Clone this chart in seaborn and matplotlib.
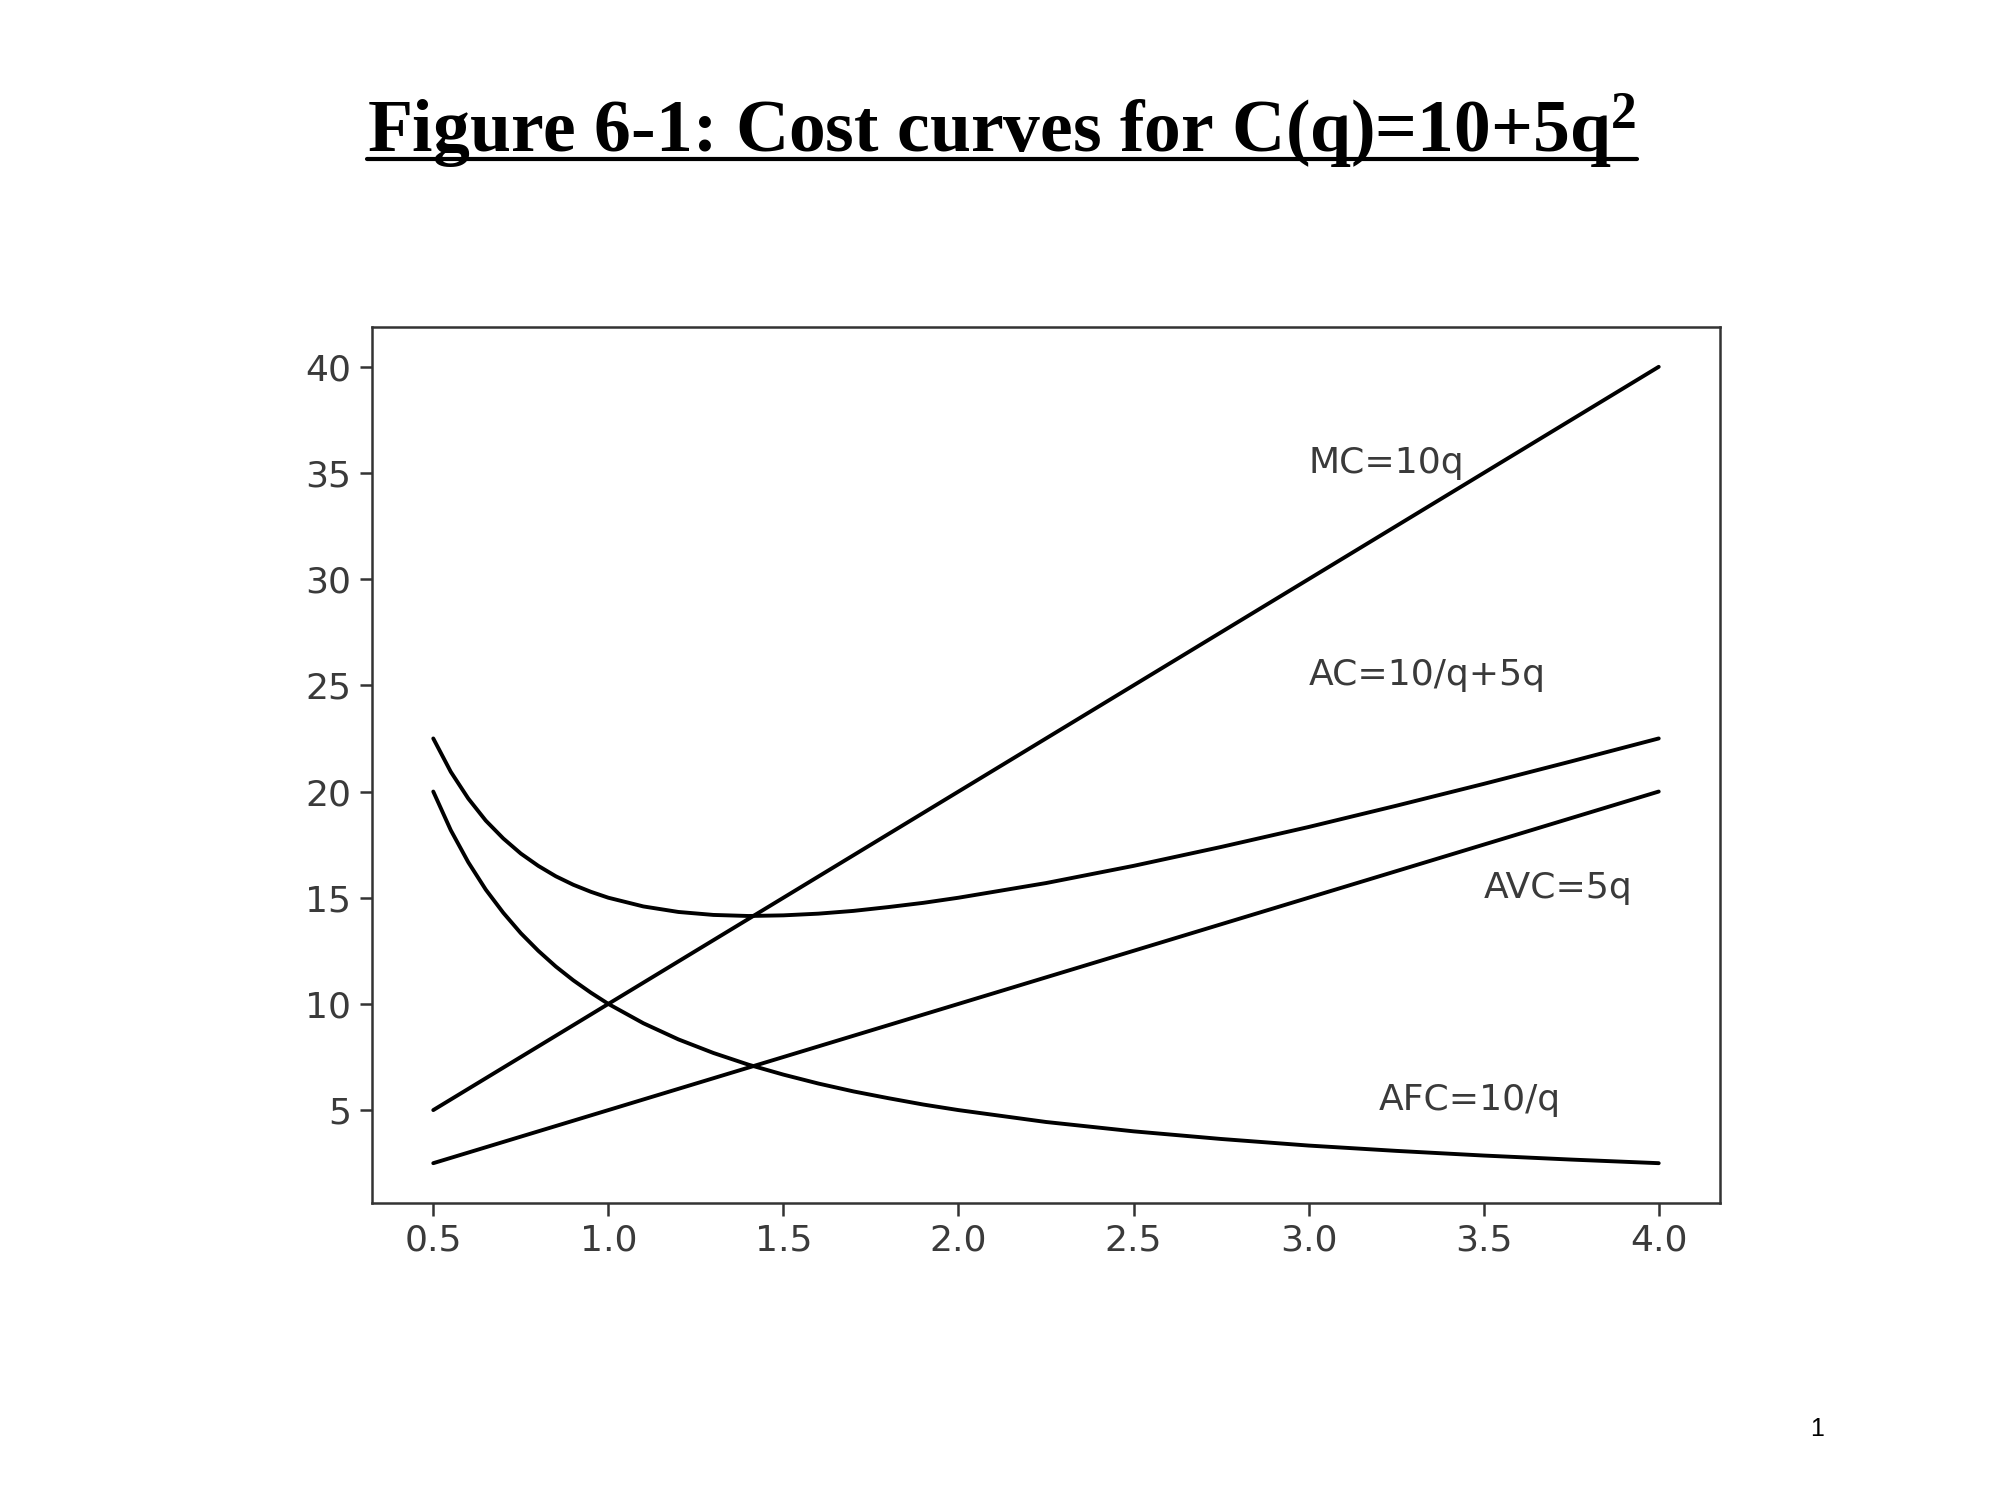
import matplotlib
matplotlib.use('Agg')
import matplotlib.pyplot as plt
import seaborn as sns
import pandas as pd
from matplotlib.lines import Line2D

# values
q = [0.5, 0.55, 0.6, 0.65, 0.7, 0.75, 0.8, 0.85, 0.9, 0.95, 1.0, 1.1, 1.2, 1.3,
     1.4, 1.5, 1.6, 1.7, 1.8, 1.9, 2.0, 2.25, 2.5, 2.75, 3.0, 3.25, 3.5, 3.75, 4.0]
mc = [5, 5.5, 6, 6.5, 7, 7.5, 8, 8.5, 9, 9.5, 10, 11, 12, 13,
      14, 15, 16, 17, 18, 19, 20, 22.5, 25, 27.5, 30, 32.5, 35, 37.5, 40]
ac = [22.5, 20.93, 19.67, 18.63, 17.79, 17.08, 16.5, 16.01, 15.61, 15.28, 15.0, 14.59, 14.33, 14.19,
      14.14, 14.17, 14.25, 14.38, 14.56, 14.76, 15.0, 15.69, 16.5, 17.39, 18.33, 19.33, 20.36, 21.42, 22.5]
avc = [2.5, 2.75, 3, 3.25, 3.5, 3.75, 4, 4.25, 4.5, 4.75, 5, 5.5, 6, 6.5,
       7, 7.5, 8, 8.5, 9, 9.5, 10, 11.25, 12.5, 13.75, 15, 16.25, 17.5, 18.75, 20]
afc = [20, 18.18, 16.67, 15.38, 14.29, 13.33, 12.5, 11.76, 11.11, 10.53, 10, 9.09, 8.33, 7.69,
       7.14, 6.67, 6.25, 5.88, 5.56, 5.26, 5.0, 4.44, 4.0, 3.64, 3.33, 3.08, 2.86, 2.67, 2.5]

labels = ['MC=10q', 'AC=10/q+5q', 'AVC=5q', 'AFC=10/q']
label_x = [3.0, 3.0, 3.5, 3.2]
label_y = [35, 25, 15, 5]

title = 'Figure 6-1: Cost curves for C(q)=10+5q$^{2}$'

sns.set_theme(style='ticks')
plt.rcParams['font.family'] = ['DejaVu Sans']
plt.rcParams['mathtext.default'] = 'regular'

fig = plt.figure(figsize=(20, 15), dpi=100)
ax = fig.add_axes([0.186, 0.198, 0.674, 0.584])

series = {'MC': mc, 'AC': ac, 'AVC': avc, 'AFC': afc}
for name, vals in series.items():
    df = pd.DataFrame({'q': q, 'cost': vals})
    sns.lineplot(data=df, x='q', y='cost', ax=ax, color='black', linewidth=2.8)

for txt, tx, ty in zip(labels, label_x, label_y):
    ax.text(tx, ty, txt, fontsize=26, color='#3a3a3a')

ax.set_xticks([0.5, 1.0, 1.5, 2.0, 2.5, 3.0, 3.5, 4.0])
ax.set_yticks([5, 10, 15, 20, 25, 30, 35, 40])
ax.set_xlabel('')
ax.set_ylabel('')
ax.tick_params(labelsize=26, labelcolor='#3a3a3a', color='#333333',
               length=9, width=1.8, pad=6)
for sp in ax.spines.values():
    sp.set_visible(True)
    sp.set_color('#333333')
    sp.set_linewidth(1.8)

# title with underline
t = fig.text(0.501, 0.899, title, ha='center', va='baseline', color='black',
             fontsize=53, fontweight='bold', family='Liberation Serif')
fig.canvas.draw()
bb = t.get_window_extent(renderer=fig.canvas.get_renderer())
x0, x1 = bb.x0 / fig.bbox.width, bb.x1 / fig.bbox.width
uy = 0.899 - 7 / fig.bbox.height
fig.add_artist(Line2D([x0, x1], [uy, uy], transform=fig.transFigure,
                      color='black', linewidth=3))

fig.text(0.905, 0.043, '1', fontsize=18, color='black', family='Liberation Sans')

fig.savefig('out.png', dpi=100)
